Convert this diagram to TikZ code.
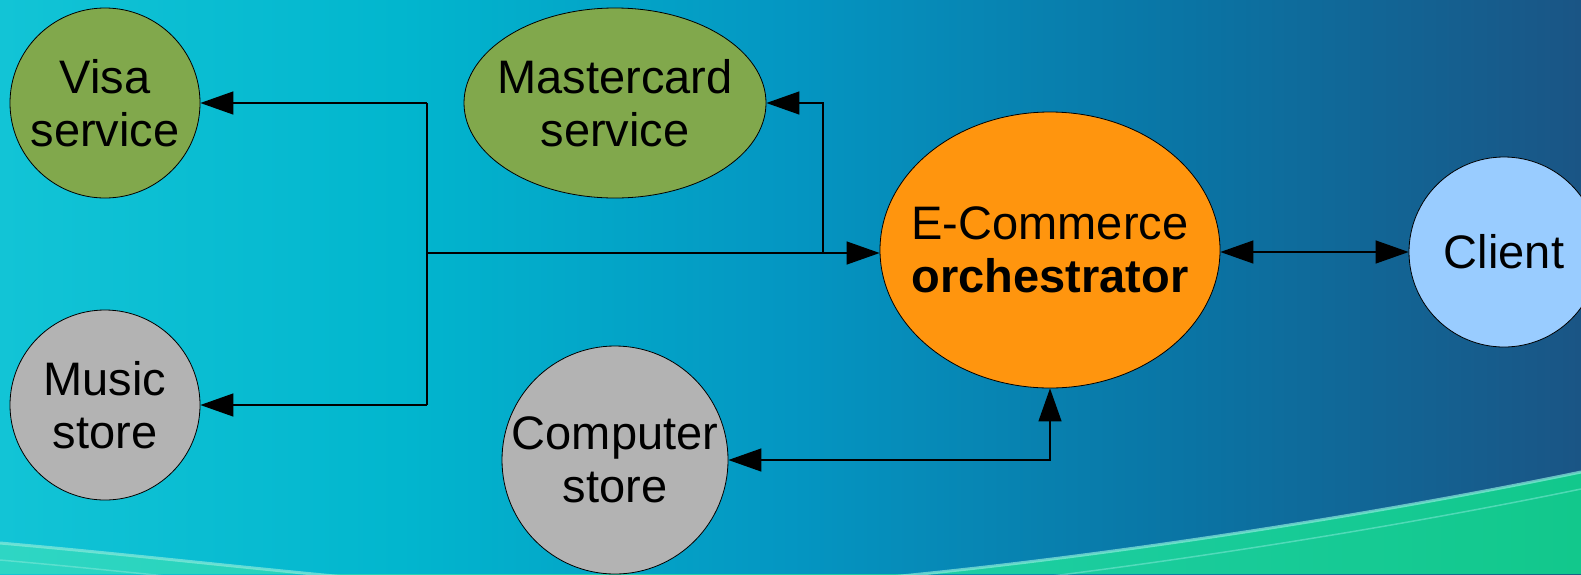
\documentclass[tikz,border=0pt]{standalone}
\usepackage{fontspec}
\setmainfont{Liberation Sans}
\usetikzlibrary{shapes.geometric,arrows.meta}
\definecolor{nodegreen}{HTML}{81A84C}
\definecolor{nodegray}{HTML}{B3B3B3}
\definecolor{nodeorange}{HTML}{FF950E}
\definecolor{nodeblue}{HTML}{99CCFF}
\definecolor{bgA}{HTML}{12C4D6}
\definecolor{bgB}{HTML}{02B6CE}
\definecolor{bgC}{HTML}{0496C2}
\definecolor{bgD}{HTML}{0A74A4}
\definecolor{bgE}{HTML}{1A5585}
\definecolor{swL}{HTML}{2ED6C4}
\definecolor{swR}{HTML}{12C88C}
\definecolor{swline}{HTML}{8AEADB}
\pgfdeclarehorizontalshading{bgshade}{100bp}{color(0bp)=(bgA); color(25bp)=(bgA); color(37.65bp)=(bgB); color(50bp)=(bgC); color(62.6bp)=(bgD); color(75bp)=(bgE); color(100bp)=(bgE)}
\newcommand{\ctrline}[1]{\makebox[0pt]{#1}}
\tikzset{
  bubble/.style={ellipse, draw=black, line width=0.8pt, inner sep=0pt,
    align=center, font=\fontsize{47}{53}\selectfont},
  conn/.style={line width=1.3pt, draw=black},
  arr/.style={conn, -{Triangle[length=33pt,width=23pt]}},
  arrboth/.style={conn, {Triangle[length=33pt,width=23pt]}-{Triangle[length=33pt,width=23pt]}}
}
\begin{document}
\begin{tikzpicture}[x=1pt,y=-1pt]
\useasboundingbox (0,0) rectangle (1581,574);
\clip (0,0) rectangle (1581,574);
% background
\shade[shading=bgshade] (0,0) rectangle (1581,574);
\shade[left color=swL, right color=swR]
  (0,543) .. controls (250,565) and (450,595) .. (650,592)
  .. controls (900,588) and (1300,530) .. (1581,472)
  -- (1581,574) -- (0,574) -- cycle;
\draw[swline, line width=3pt, opacity=0.7]
  (0,543) .. controls (250,565) and (450,595) .. (650,592)
  .. controls (900,588) and (1300,530) .. (1581,472);
\draw[swline, line width=1.5pt, opacity=0.5]
  (0,560) .. controls (250,582) and (450,612) .. (650,609)
  .. controls (900,605) and (1300,547) .. (1581,489);

% nodes
\node[bubble, fill=nodegreen, minimum width=190pt, minimum height=190pt] (visa) at (105,103) {\ctrline{Visa}\\\ctrline{service}};
\node[bubble, fill=nodegreen, minimum width=302pt, minimum height=190pt] (master) at (615,103) {\ctrline{Mastercard}\\\ctrline{service}};
\node[bubble, fill=nodegray, minimum width=190pt, minimum height=190pt] (music) at (105,405) {\ctrline{Music}\\\ctrline{store}};
\node[bubble, fill=nodegray, minimum width=226pt, minimum height=228pt] (comp) at (615,460) {\ctrline{Computer}\\\ctrline{store}};
\node[bubble, fill=nodeorange, minimum width=340pt, minimum height=276pt] (ecom) at (1050,250) {\ctrline{E-Commerce}\\\ctrline{\textbf{orchestrator}}};
\node[bubble, fill=nodeblue, minimum width=190pt, minimum height=190pt] (client) at (1504,252) {\ctrline{Client}};

% connectors
\coordinate (bt) at (427,103);
\coordinate (bb) at (427,405);
\coordinate (bm) at (427,253);
\coordinate (mc) at (823,253);
\draw[conn] (bt) -- (bb);
\draw[arr] (bt) -- (visa.east);
\draw[arr] (bb) -- (music.east);
\draw[arr] (bm) -- (bm -| ecom.west);
\draw[arr] (mc) |- (master.east);
\draw[arrboth] (ecom.east |- client.west) -- (client.west);
\draw[arrboth] (comp.east) -| (ecom.south);
\end{tikzpicture}
\end{document}
